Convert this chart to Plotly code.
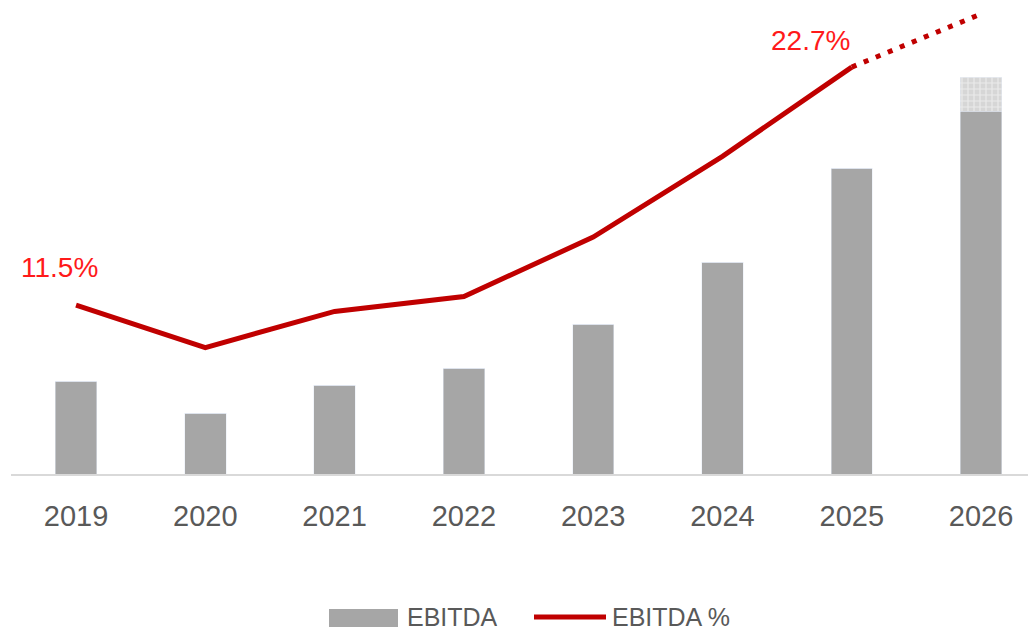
import plotly.graph_objects as go

years = ["2019", "2020", "2021", "2022", "2023", "2024", "2025", "2026"]
ebitda = [9.3, 6.1, 8.9, 10.6, 15.0, 21.2, 30.6, 36.3]
ebitda_upside = [0, 0, 0, 0, 0, 0, 0, 3.4]
margin_years = ["2019", "2020", "2021", "2022", "2023", "2024", "2025"]
margin_pct = [11.5, 9.5, 11.2, 11.9, 14.7, 18.5, 22.7]
proj_years = ["2025", "2026"]
proj_pct = [22.7, 25.2]
label_years = ["2019", "2025"]
label_values = [11.5, 22.7]
label_texts = ["11.5%", "22.7%"]

BAR = "#A6A6A6"
RED = "#C00000"
LABEL_RED = "#FF1A1A"
TXT = "#595959"
FONT = "Liberation Sans, Arial, sans-serif"

fig = go.Figure()
fig.add_trace(go.Bar(x=years, y=ebitda, name="EBITDA", marker_color=BAR,
                     width=0.32, showlegend=False))
fig.add_trace(go.Bar(x=years, y=ebitda_upside, name="EBITDA upside",
                     width=0.32, showlegend=False,
                     marker=dict(color="#dcdcdc",
                                 pattern=dict(shape="+", fgcolor="#ffffff",
                                              bgcolor="#d6d6d6", size=6, solidity=0.35))))
fig.add_trace(go.Scatter(x=margin_years, y=margin_pct, yaxis="y2", mode="lines",
                         line=dict(color=RED, width=5), name="EBITDA %", showlegend=False))
fig.add_trace(go.Scatter(x=proj_years, y=proj_pct, yaxis="y2", mode="lines",
                         line=dict(color=RED, width=5, dash="5px,8px"), showlegend=False))

label_shifts = [(-17, 38), (-41, 27)]
annotations = []
for yr, val, txt, (dx, dy) in zip(label_years, label_values, label_texts, label_shifts):
    annotations.append(dict(x=years.index(yr), y=val, xref="x", yref="y2", text=txt,
                            showarrow=False, xshift=dx, yshift=dy,
                            font=dict(size=28, color=LABEL_RED, family=FONT)))

# custom legend (figure pixel positions converted to paper coordinates)
W, H, L, PH = 1025.0, 466.0, 3.0, 466.0
def px(xp):
    return (xp - L) / W
def py(yp):
    return (PH - yp) / H

shapes = [
    dict(type="rect", xref="paper", yref="paper", x0=px(321), x1=px(390),
         y0=py(619), y1=py(601), fillcolor=BAR, line=dict(width=0)),
    dict(type="line", xref="paper", yref="paper", x0=px(526), x1=px(598),
         y0=py(609), y1=py(609), line=dict(color=RED, width=5)),
]
annotations += [
    dict(xref="paper", yref="paper", x=px(398), y=py(609), text="EBITDA",
         showarrow=False, xanchor="left", yanchor="middle", height=24, borderpad=0,
         font=dict(size=25, color=TXT, family=FONT)),
    dict(xref="paper", yref="paper", x=px(603), y=py(609), text="EBITDA %",
         showarrow=False, xanchor="left", yanchor="middle", height=24, borderpad=0,
         font=dict(size=25, color=TXT, family=FONT)),
]

fig.update_layout(
    width=1028, height=622,
    margin=dict(l=3, r=0, t=0, b=156),
    paper_bgcolor="white", plot_bgcolor="white",
    barmode="stack", bargap=0.68,
    showlegend=False,
    xaxis=dict(type="category", range=[-0.503, 7.425], showgrid=False,
               showline=True, linecolor="#D9D9D9", linewidth=2,
               ticks="", ticklabelstandoff=15,
               tickfont=dict(size=29, color=TXT, family=FONT)),
    yaxis=dict(range=[0, 46.6], showgrid=False, zeroline=False,
               showticklabels=False, showline=False, ticks=""),
    yaxis2=dict(range=[3.55, 25.48], overlaying="y", side="right",
                showgrid=False, zeroline=False, showticklabels=False,
                showline=False, ticks=""),
    annotations=annotations,
    shapes=shapes,
)

fig.write_html("out.html")
